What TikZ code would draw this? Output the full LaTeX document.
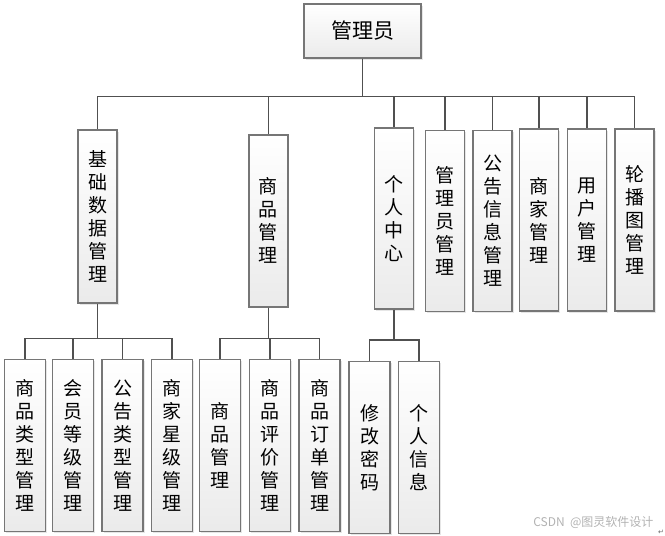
\documentclass[tikz,border=0pt]{standalone}
\usepackage{fontspec}
\newfontfamily\cjk{Noto Sans CJK SC}
\newfontfamily\symfont{DejaVu Sans}
\usepackage{tikz}
\usetikzlibrary{shadows}
\definecolor{boxline}{HTML}{767676}
\definecolor{linkline}{HTML}{505050}
\tikzset{
    modbox/.style={draw=boxline, line width=1.5pt, top color=white, bottom color=black!8,
        drop shadow={shadow xshift=1.5pt, shadow yshift=-1.5pt, opacity=.2},
        inner sep=0pt, align=center, font=\cjk\fontsize{19}{23}\selectfont},
    upper/.style={modbox, minimum width=39pt},
    lower/.style={modbox, minimum width=41pt, minimum height=172pt},
    link/.style={draw=linkline, line width=1.5pt},
}

\begin{document}
\begin{tikzpicture}[x=1pt, y=-1pt]
	\useasboundingbox (0,0) rectangle (665,536);
	\node[modbox, minimum width=117pt, minimum height=54pt,
		font=\cjk\fontsize{21}{25}\selectfont] (admin) at (362.5,31) {管理员};
	% first level
	\node[upper, minimum height=173pt] (jichu) at (97.5,216.7) {基\\础\\数\\据\\管\\理};
	\node[upper, minimum height=172pt] (shangpin) at (268.3,220.8) {商\\品\\管\\理};
	\node[upper, minimum height=181pt] (geren) at (393.8,218.7) {个\\人\\中\\心};
	\node[upper, minimum height=181pt] (guanli) at (445.2,221.2) {管\\理\\员\\管\\理};
	\node[upper, minimum height=181pt] (gonggao) at (492.5,221) {公\\告\\信\\息\\管\\理};
	\node[upper, minimum height=182pt] (shangjia) at (539.2,220.2) {商\\家\\管\\理};
	\node[upper, minimum height=182pt] (yonghu) at (586.8,220.2) {用\\户\\管\\理};
	\node[upper, minimum height=182pt] (lunbo) at (634.5,220.2) {轮\\播\\图\\管\\理};
	% second level
	\node[lower] (splx) at (25.2,445.5) {商\\品\\类\\型\\管\\理};
	\node[lower] (hydj) at (72.8,445.5) {会\\员\\等\\级\\管\\理};
	\node[lower] (gglx) at (122.7,445.5) {公\\告\\类\\型\\管\\理};
	\node[lower] (sjxj) at (171.8,445.5) {商\\家\\星\\级\\管\\理};
	\node[lower] (spgl) at (220.2,445.5) {商\\品\\管\\理};
	\node[lower] (sppj) at (270,445.5) {商\\品\\评\\价\\管\\理};
	\node[lower] (spdd) at (319.5,445.5) {商\\品\\订\\单\\管\\理};
	\node[lower] (xgmm) at (369.7,447.3) {修\\改\\密\\码};
	\node[lower] (grxx) at (418.8,447.3) {个\\人\\信\\息};
	% buses
	\coordinate (bus) at (0,96.7);
	\coordinate (busa) at (0,338.3);
	\coordinate (busb) at (0,340);
	\foreach \m in {jichu,shangpin,geren,guanli,gonggao,shangjia,yonghu,lunbo}
		\draw[link] (admin.south) |- (\m.north |- bus) -- (\m.north);
	\foreach \m in {splx,hydj,gglx,sjxj}
		\draw[link] (jichu.south) |- (\m.north |- busa) -- (\m.north);
	\foreach \m in {spgl,sppj,spdd}
		\draw[link] (shangpin.south) |- (\m.north |- busa) -- (\m.north);
	\foreach \m in {xgmm,grxx}
		\draw[link] (geren.south) |- (\m.north |- busb) -- (\m.north);
	\node[anchor=east, text=black!30, font=\cjk\fontsize{12}{12}\selectfont] (mark) at (657,522) {CSDN\ \ @图灵软件设计};
	\node[text=black!60, font=\symfont\fontsize{7}{7}\selectfont] (ret) at (661,532) {↵};
\end{tikzpicture}
\end{document}
